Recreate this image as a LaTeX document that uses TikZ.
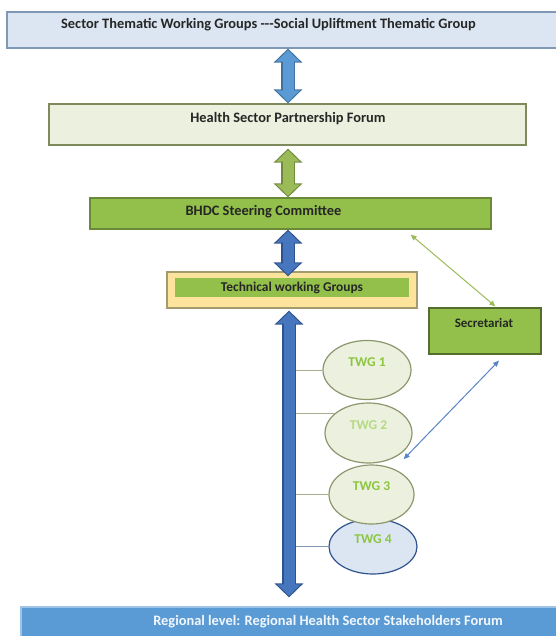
\documentclass[tikz,border=0pt]{standalone}
\usepackage{xcolor}
\usepackage{fontspec}
\setmainfont{Carlito}
\usepackage{tikz}
\usetikzlibrary{shapes.geometric,arrows.meta,calc}

\definecolor{paleblue}{HTML}{DCE6F2}
\definecolor{paleblueline}{HTML}{7F98B5}
\definecolor{palegreen}{HTML}{EBF1DE}
\definecolor{olivegray}{HTML}{7F8A5C}
\definecolor{leafgreen}{HTML}{92C04A}
\definecolor{leafline}{HTML}{6A8A3A}
\definecolor{sand}{HTML}{FDE39C}
\definecolor{sandline}{HTML}{A39A6E}
\definecolor{skyblue}{HTML}{5B9BD5}
\definecolor{skyline}{HTML}{41719C}
\definecolor{deepblue}{HTML}{4676BE}
\definecolor{deepline}{HTML}{2F528F}
\definecolor{arrowgreen}{HTML}{9BBB59}
\definecolor{arrowgreenline}{HTML}{71893E}
\definecolor{twgtext}{HTML}{8CC63F}

\tikzset{
  box/.style={rectangle, line width=1.2pt, inner sep=0pt},
  boxtext/.style={font=\bfseries\fontsize{14.4}{17}\selectfont, text=black!85, inner sep=0pt},
  twg/.style={ellipse, line width=1.2pt, fill=palegreen, draw=olivegray!90,
    text=twgtext, font=\bfseries\fontsize{13.5}{16}\selectfont,
    text height=9pt, text depth=17pt, inner sep=0pt},
  bigarrow/.style 2 args={line width=11pt, draw=#1,
    shorten <=1.6pt, shorten >=1.6pt,
    {Triangle[width=23pt,length=11.5pt]}-{Triangle[width=23pt,length=11.5pt]},
    preaction={draw=#2, line width=14pt, shorten <=0pt, shorten >=0pt,
      {Triangle[width=28pt,length=14pt]}-{Triangle[width=28pt,length=14pt]}}},
  thinarrow/.style={line width=1pt, {Triangle[length=6pt,width=5pt]}-{Triangle[length=6pt,width=5pt]}},
  twgline/.style={line width=1pt, draw=olivegray!70}
}

\begin{document}
\begin{tikzpicture}[x=1pt,y=-1pt]
  \useasboundingbox (0,0) rectangle (555,636);
  % boxes of the chain
  \node[box, fill=paleblue, draw=paleblueline, minimum width=553pt, minimum height=36pt] (sector) at (283.5,30) {};
  \node[boxtext] (sectortext) at (268.5,25) {Sector Thematic Working Groups {-}{-}{-}Social Upliftment Thematic Group};
  \node[box, fill=palegreen, draw=olivegray, minimum width=477pt, minimum height=41pt] (forum) at (287.5,124.5) {};
  \node[boxtext] (forumtext) at (288,119) {Health Sector Partnership Forum};
  \node[box, fill=leafgreen, draw=leafline, minimum width=401pt, minimum height=31pt] (bhdc) at (290.5,213.5) {};
  \node[boxtext] (bhdctext) at (263.5,212) {BHDC Steering Committee};
  \node[box, fill=sand, draw=sandline, minimum width=250pt, minimum height=36pt] (tech) at (292,290) {};
  \node[box, boxtext, fill=leafgreen, minimum width=234pt, minimum height=19pt,
    font=\bfseries\fontsize{13.4}{15}\selectfont] (techbar) at (292,287.5) {Technical working Groups};
  \node[box, fill=leafgreen, draw=leafline!80!black, minimum width=112pt, minimum height=46pt] (secr) at (485,331) {};
  \node[boxtext, font=\bfseries\fontsize{13}{15}\selectfont] (secrtext) at (484,323) {Secretariat};
  \node[box, fill=skyblue, draw=skyblue!60!white, minimum width=537pt, minimum height=33pt] (region) at (289.5,623.5) {};
  \node[boxtext, text=white!92!skyblue] (regiontext) at (328,622) {Regional level: Regional Health Sector Stakeholders Forum};

  % working groups
  \node[twg, minimum width=88pt, minimum height=59pt] (twg1) at (367,370) {TWG 1};
  \node[twg, minimum width=87pt, minimum height=60pt, text=twgtext!65] (twg2) at (368.5,433) {TWG 2};
  \node[twg, fill=paleblue, draw=deepline, minimum width=88pt, minimum height=55pt,
    text height=9pt, text depth=15pt] (twg4) at (373,546.5) {TWG 4};
  \node[twg, minimum width=85pt, minimum height=59pt] (twg3) at (371.5,494.5) {TWG 3};

  % block arrows
  \coordinate (axis) at (288,0);
  \coordinate (spine) at (289,0);
  \draw[bigarrow={skyblue}{skyline}] (sector.south -| axis) -- (forum.north -| axis);
  \draw[bigarrow={arrowgreen}{arrowgreenline}] ($(forum.south -| axis)+(0,3)$) -- (bhdc.north -| axis);
  \draw[bigarrow={deepblue}{deepline}] (bhdc.south -| axis) -- ($(tech.north -| axis)+(0,5)$);

  \draw[twgline] (twg1.west) -- (twg1.west -| spine);
  \draw[twgline] (twg2.150) -- (twg2.150 -| spine);
  \draw[twgline] (twg3.west) -- (twg3.west -| spine);
  \draw[twgline, draw=paleblueline] (twg4.west) -- (twg4.west -| spine);
  \draw[bigarrow={deepblue}{deepline}] ($(tech.south -| spine)+(0,2)$) -- ($(region.north -| spine)+(0,-9)$);

  % secretariat links
  \draw[thinarrow, arrowgreen] ($(bhdc.south east)+(-81,5)$) -- ($(secr.north west)+(67,-1)$);
  \draw[thinarrow, deepblue!90] ($(secr.south)+(14,6)$) -- ($(twg2.-45)+(10,1)$);
\end{tikzpicture}
\end{document}
